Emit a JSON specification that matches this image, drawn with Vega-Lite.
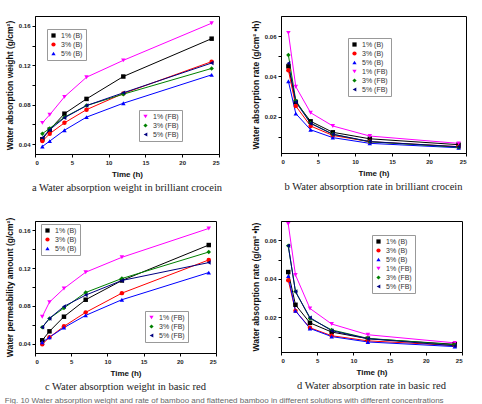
{
  "$schema": "https://vega.github.io/schema/vega-lite/v6.json",
  "background": "white",
  "padding": {"left": 4, "top": 15, "right": 5, "bottom": 0},
  "title": {"text": "Fig. 10  Water absorption weight and rate of bamboo and flattened bamboo in different solutions with different concentrations", "orient": "bottom", "anchor": "start", "font": "Liberation Sans", "fontSize": 8, "fontWeight": "normal", "color": "#666666", "offset": 4},
  "datasets": {
    "wbc": [
      {"t": 1, "s": "1% (B)", "g": "B", "v": 0.045}, {"t": 2, "s": "1% (B)", "g": "B", "v": 0.0547}, {"t": 4, "s": "1% (B)", "g": "B", "v": 0.0709}, {"t": 7, "s": "1% (B)", "g": "B", "v": 0.0859}, {"t": 12, "s": "1% (B)", "g": "B", "v": 0.1086}, {"t": 24, "s": "1% (B)", "g": "B", "v": 0.147},
      {"t": 1, "s": "3% (B)", "g": "B", "v": 0.0431}, {"t": 2, "s": "3% (B)", "g": "B", "v": 0.0506}, {"t": 4, "s": "3% (B)", "g": "B", "v": 0.0616}, {"t": 7, "s": "3% (B)", "g": "B", "v": 0.075}, {"t": 12, "s": "3% (B)", "g": "B", "v": 0.0914}, {"t": 24, "s": "3% (B)", "g": "B", "v": 0.1237},
      {"t": 1, "s": "5% (B)", "g": "B", "v": 0.0376}, {"t": 2, "s": "5% (B)", "g": "B", "v": 0.0431}, {"t": 4, "s": "5% (B)", "g": "B", "v": 0.0541}, {"t": 7, "s": "5% (B)", "g": "B", "v": 0.0674}, {"t": 12, "s": "5% (B)", "g": "B", "v": 0.0815}, {"t": 24, "s": "5% (B)", "g": "B", "v": 0.1103},
      {"t": 1, "s": "1% (FB)", "g": "FB", "v": 0.0616}, {"t": 2, "s": "1% (FB)", "g": "FB", "v": 0.0698}, {"t": 4, "s": "1% (FB)", "g": "FB", "v": 0.088}, {"t": 7, "s": "1% (FB)", "g": "FB", "v": 0.1079}, {"t": 12, "s": "1% (FB)", "g": "FB", "v": 0.125}, {"t": 24, "s": "1% (FB)", "g": "FB", "v": 0.1627},
      {"t": 1, "s": "3% (FB)", "g": "FB", "v": 0.0506}, {"t": 2, "s": "3% (FB)", "g": "FB", "v": 0.056}, {"t": 4, "s": "3% (FB)", "g": "FB", "v": 0.0674}, {"t": 7, "s": "3% (FB)", "g": "FB", "v": 0.0791}, {"t": 12, "s": "3% (FB)", "g": "FB", "v": 0.0907}, {"t": 24, "s": "3% (FB)", "g": "FB", "v": 0.1168},
      {"t": 1, "s": "5% (FB)", "g": "FB", "v": 0.0465}, {"t": 2, "s": "5% (FB)", "g": "FB", "v": 0.0547}, {"t": 4, "s": "5% (FB)", "g": "FB", "v": 0.0667}, {"t": 7, "s": "5% (FB)", "g": "FB", "v": 0.0791}, {"t": 12, "s": "5% (FB)", "g": "FB", "v": 0.0921}, {"t": 24, "s": "5% (FB)", "g": "FB", "v": 0.1223}
    ],
    "rbc": [
      {"t": 1, "s": "1% (B)", "v": 0.045}, {"t": 2, "s": "1% (B)", "v": 0.02735}, {"t": 4, "s": "1% (B)", "v": 0.01773}, {"t": 7, "s": "1% (B)", "v": 0.01227}, {"t": 12, "s": "1% (B)", "v": 0.00905}, {"t": 24, "s": "1% (B)", "v": 0.00613},
      {"t": 1, "s": "3% (B)", "v": 0.0431}, {"t": 2, "s": "3% (B)", "v": 0.0253}, {"t": 4, "s": "3% (B)", "v": 0.0154}, {"t": 7, "s": "3% (B)", "v": 0.01071}, {"t": 12, "s": "3% (B)", "v": 0.00762}, {"t": 24, "s": "3% (B)", "v": 0.00515},
      {"t": 1, "s": "5% (B)", "v": 0.0376}, {"t": 2, "s": "5% (B)", "v": 0.02155}, {"t": 4, "s": "5% (B)", "v": 0.01353}, {"t": 7, "s": "5% (B)", "v": 0.00963}, {"t": 12, "s": "5% (B)", "v": 0.00679}, {"t": 24, "s": "5% (B)", "v": 0.0046},
      {"t": 1, "s": "1% (FB)", "v": 0.0616}, {"t": 2, "s": "1% (FB)", "v": 0.0349}, {"t": 4, "s": "1% (FB)", "v": 0.022}, {"t": 7, "s": "1% (FB)", "v": 0.01541}, {"t": 12, "s": "1% (FB)", "v": 0.01042}, {"t": 24, "s": "1% (FB)", "v": 0.00678},
      {"t": 1, "s": "3% (FB)", "v": 0.0506}, {"t": 2, "s": "3% (FB)", "v": 0.028}, {"t": 4, "s": "3% (FB)", "v": 0.01685}, {"t": 7, "s": "3% (FB)", "v": 0.0113}, {"t": 12, "s": "3% (FB)", "v": 0.00756}, {"t": 24, "s": "3% (FB)", "v": 0.00487},
      {"t": 1, "s": "5% (FB)", "v": 0.0465}, {"t": 2, "s": "5% (FB)", "v": 0.02735}, {"t": 4, "s": "5% (FB)", "v": 0.01668}, {"t": 7, "s": "5% (FB)", "v": 0.0113}, {"t": 12, "s": "5% (FB)", "v": 0.00768}, {"t": 24, "s": "5% (FB)", "v": 0.0051}
    ],
    "wbr": [
      {"t": 1, "s": "1% (B)", "g": "B", "v": 0.0435}, {"t": 2, "s": "1% (B)", "g": "B", "v": 0.053}, {"t": 4, "s": "1% (B)", "g": "B", "v": 0.0685}, {"t": 7, "s": "1% (B)", "g": "B", "v": 0.0865}, {"t": 12, "s": "1% (B)", "g": "B", "v": 0.1069}, {"t": 24, "s": "1% (B)", "g": "B", "v": 0.1445},
      {"t": 1, "s": "3% (B)", "g": "B", "v": 0.0393}, {"t": 2, "s": "3% (B)", "g": "B", "v": 0.0467}, {"t": 4, "s": "3% (B)", "g": "B", "v": 0.0583}, {"t": 7, "s": "3% (B)", "g": "B", "v": 0.0731}, {"t": 12, "s": "3% (B)", "g": "B", "v": 0.0935}, {"t": 24, "s": "3% (B)", "g": "B", "v": 0.1287},
      {"t": 1, "s": "5% (B)", "g": "B", "v": 0.0414}, {"t": 2, "s": "5% (B)", "g": "B", "v": 0.0467}, {"t": 4, "s": "5% (B)", "g": "B", "v": 0.0569}, {"t": 7, "s": "5% (B)", "g": "B", "v": 0.0699}, {"t": 12, "s": "5% (B)", "g": "B", "v": 0.0865}, {"t": 24, "s": "5% (B)", "g": "B", "v": 0.1153},
      {"t": 1, "s": "1% (FB)", "g": "FB", "v": 0.0685}, {"t": 2, "s": "1% (FB)", "g": "FB", "v": 0.084}, {"t": 4, "s": "1% (FB)", "g": "FB", "v": 0.0984}, {"t": 7, "s": "1% (FB)", "g": "FB", "v": 0.1157}, {"t": 12, "s": "1% (FB)", "g": "FB", "v": 0.1315}, {"t": 24, "s": "1% (FB)", "g": "FB", "v": 0.1621},
      {"t": 1, "s": "3% (FB)", "g": "FB", "v": 0.0572}, {"t": 2, "s": "3% (FB)", "g": "FB", "v": 0.0667}, {"t": 4, "s": "3% (FB)", "g": "FB", "v": 0.0777}, {"t": 7, "s": "3% (FB)", "g": "FB", "v": 0.0942}, {"t": 12, "s": "3% (FB)", "g": "FB", "v": 0.109}, {"t": 24, "s": "3% (FB)", "g": "FB", "v": 0.1371},
      {"t": 1, "s": "5% (FB)", "g": "FB", "v": 0.0572}, {"t": 2, "s": "5% (FB)", "g": "FB", "v": 0.0667}, {"t": 4, "s": "5% (FB)", "g": "FB", "v": 0.0794}, {"t": 7, "s": "5% (FB)", "g": "FB", "v": 0.0914}, {"t": 12, "s": "5% (FB)", "g": "FB", "v": 0.1069}, {"t": 24, "s": "5% (FB)", "g": "FB", "v": 0.1259}
    ],
    "rbr": [
      {"t": 1, "s": "1% (B)", "v": 0.0435}, {"t": 2, "s": "1% (B)", "v": 0.0265}, {"t": 4, "s": "1% (B)", "v": 0.01713}, {"t": 7, "s": "1% (B)", "v": 0.01236}, {"t": 12, "s": "1% (B)", "v": 0.00891}, {"t": 24, "s": "1% (B)", "v": 0.00602},
      {"t": 1, "s": "3% (B)", "v": 0.0393}, {"t": 2, "s": "3% (B)", "v": 0.02335}, {"t": 4, "s": "3% (B)", "v": 0.01458}, {"t": 7, "s": "3% (B)", "v": 0.01044}, {"t": 12, "s": "3% (B)", "v": 0.00779}, {"t": 24, "s": "3% (B)", "v": 0.00536},
      {"t": 1, "s": "5% (B)", "v": 0.0414}, {"t": 2, "s": "5% (B)", "v": 0.02335}, {"t": 4, "s": "5% (B)", "v": 0.01423}, {"t": 7, "s": "5% (B)", "v": 0.00999}, {"t": 12, "s": "5% (B)", "v": 0.00721}, {"t": 24, "s": "5% (B)", "v": 0.0048},
      {"t": 1, "s": "1% (FB)", "v": 0.0685}, {"t": 2, "s": "1% (FB)", "v": 0.042}, {"t": 4, "s": "1% (FB)", "v": 0.0246}, {"t": 7, "s": "1% (FB)", "v": 0.01653}, {"t": 12, "s": "1% (FB)", "v": 0.01096}, {"t": 24, "s": "1% (FB)", "v": 0.00675},
      {"t": 1, "s": "3% (FB)", "v": 0.0572}, {"t": 2, "s": "3% (FB)", "v": 0.03335}, {"t": 4, "s": "3% (FB)", "v": 0.01943}, {"t": 7, "s": "3% (FB)", "v": 0.01346}, {"t": 12, "s": "3% (FB)", "v": 0.00908}, {"t": 24, "s": "3% (FB)", "v": 0.00571},
      {"t": 1, "s": "5% (FB)", "v": 0.0572}, {"t": 2, "s": "5% (FB)", "v": 0.03335}, {"t": 4, "s": "5% (FB)", "v": 0.01985}, {"t": 7, "s": "5% (FB)", "v": 0.01306}, {"t": 12, "s": "5% (FB)", "v": 0.00891}, {"t": 24, "s": "5% (FB)", "v": 0.00525}
    ]
  },
  "columns": 2,
  "spacing": {"column": 25, "row": 22},
  "resolve": {"scale": {"color": "independent", "shape": "independent"}, "legend": {"color": "independent", "shape": "independent"}},
  "concat": [
    {
      "width": 184, "height": 138,
      "title": {"text": "a  Water absorption weight in brilliant crocein"},
      "data": {"name": "wbc"},
      "encoding": {
        "x": {"field": "t", "type": "quantitative", "scale": {"domain": [0, 25]}, "axis": {"values": [0, 5, 10, 15, 20, 25], "title": "Time (h)"}},
        "y": {"field": "v", "type": "quantitative", "scale": {"domain": [0.03, 0.17]}, "axis": {"values": [0.04, 0.06, 0.08, 0.1, 0.12, 0.14, 0.16], "labelExpr": "round(datum.value*100) % 4 == 0 ? format(datum.value, '.2f') : ''", "title": "Water absorption weight (g/cm²)"}}
      },
      "layer": [
        {
          "transform": [{"filter": "datum.g == 'B'"}],
          "layer": [
            {"mark": {"type": "line", "strokeWidth": 1}, "encoding": {"color": {"field": "s", "type": "nominal", "scale": {"domain": ["1% (B)", "3% (B)", "5% (B)"], "range": ["#000000", "#ff0000", "#0000ff"]}}}},
            {"mark": {"type": "point", "filled": true, "size": 20, "opacity": 1}, "encoding": {
              "color": {"field": "s", "type": "nominal", "scale": {"domain": ["1% (B)", "3% (B)", "5% (B)"], "range": ["#000000", "#ff0000", "#0000ff"]}, "legend": {"orient": "none", "legendX": 12, "legendY": 13}},
              "shape": {"field": "s", "type": "nominal", "scale": {"domain": ["1% (B)", "3% (B)", "5% (B)"], "range": ["square", "circle", "triangle-up"]}, "legend": {"orient": "none", "legendX": 12, "legendY": 13}}
            }}
          ]
        },
        {
          "transform": [{"filter": "datum.g == 'FB'"}],
          "layer": [
            {"mark": {"type": "line", "strokeWidth": 1}, "encoding": {"color": {"field": "s", "type": "nominal", "scale": {"domain": ["1% (FB)", "3% (FB)", "5% (FB)"], "range": ["#ff00ff", "#008000", "#000080"]}}}},
            {"mark": {"type": "point", "filled": true, "size": 20, "opacity": 1}, "encoding": {
              "color": {"field": "s", "type": "nominal", "scale": {"domain": ["1% (FB)", "3% (FB)", "5% (FB)"], "range": ["#ff00ff", "#008000", "#000080"]}, "legend": {"orient": "none", "legendX": 104, "legendY": 94}},
              "shape": {"field": "s", "type": "nominal", "scale": {"domain": ["1% (FB)", "3% (FB)", "5% (FB)"], "range": ["triangle-down", "diamond", "triangle-left"]}, "legend": {"orient": "none", "legendX": 104, "legendY": 94}}
            }}
          ]
        }
      ],
      "resolve": {"scale": {"color": "independent", "shape": "independent"}, "legend": {"color": "independent", "shape": "independent"}}
    },
    {
      "width": 185, "height": 137,
      "title": {"text": "b  Water absorption rate in brilliant crocein"},
      "data": {"name": "rbc"},
      "encoding": {
        "x": {"field": "t", "type": "quantitative", "scale": {"domain": [0, 25]}, "axis": {"values": [0, 5, 10, 15, 20, 25], "title": "Time (h)"}},
        "y": {"field": "v", "type": "quantitative", "scale": {"domain": [0.002, 0.07]}, "axis": {"values": [0.01, 0.02, 0.03, 0.04, 0.05, 0.06], "labelExpr": "round(datum.value*100) % 2 == 0 ? format(datum.value, '.2f') : ''", "title": "Water absorption rate (g/cm² •h)"}},
        "color": {"field": "s", "type": "nominal", "scale": {"domain": ["1% (B)", "3% (B)", "5% (B)", "1% (FB)", "3% (FB)", "5% (FB)"], "range": ["#000000", "#ff0000", "#0000ff", "#ff00ff", "#008000", "#000080"]}, "legend": {"orient": "none", "legendX": 67, "legendY": 22}}
      },
      "layer": [
        {"mark": {"type": "line", "strokeWidth": 1}},
        {"mark": {"type": "point", "filled": true, "size": 20, "opacity": 1}, "encoding": {
          "shape": {"field": "s", "type": "nominal", "scale": {"domain": ["1% (B)", "3% (B)", "5% (B)", "1% (FB)", "3% (FB)", "5% (FB)"], "range": ["square", "circle", "triangle-up", "triangle-down", "diamond", "triangle-left"]}, "legend": {"orient": "none", "legendX": 67, "legendY": 22}}
        }}
      ]
    },
    {
      "width": 181, "height": 132,
      "title": {"text": "c  Water absorption weight in basic red"},
      "data": {"name": "wbr"},
      "encoding": {
        "x": {"field": "t", "type": "quantitative", "scale": {"domain": [0, 25]}, "axis": {"values": [0, 5, 10, 15, 20, 25], "title": "Time (h)"}},
        "y": {"field": "v", "type": "quantitative", "scale": {"domain": [0.03, 0.17]}, "axis": {"values": [0.04, 0.06, 0.08, 0.1, 0.12, 0.14, 0.16], "labelExpr": "round(datum.value*100) % 4 == 0 ? format(datum.value, '.2f') : ''", "title": "Water permeability amount (g/cm²)"}}
      },
      "layer": [
        {
          "transform": [{"filter": "datum.g == 'B'"}],
          "layer": [
            {"mark": {"type": "line", "strokeWidth": 1}, "encoding": {"color": {"field": "s", "type": "nominal", "scale": {"domain": ["1% (B)", "3% (B)", "5% (B)"], "range": ["#000000", "#ff0000", "#0000ff"]}}}},
            {"mark": {"type": "point", "filled": true, "size": 20, "opacity": 1}, "encoding": {
              "color": {"field": "s", "type": "nominal", "scale": {"domain": ["1% (B)", "3% (B)", "5% (B)"], "range": ["#000000", "#ff0000", "#0000ff"]}, "legend": {"orient": "none", "legendX": 6, "legendY": 3}},
              "shape": {"field": "s", "type": "nominal", "scale": {"domain": ["1% (B)", "3% (B)", "5% (B)"], "range": ["square", "circle", "triangle-up"]}, "legend": {"orient": "none", "legendX": 6, "legendY": 3}}
            }}
          ]
        },
        {
          "transform": [{"filter": "datum.g == 'FB'"}],
          "layer": [
            {"mark": {"type": "line", "strokeWidth": 1}, "encoding": {"color": {"field": "s", "type": "nominal", "scale": {"domain": ["1% (FB)", "3% (FB)", "5% (FB)"], "range": ["#ff00ff", "#008000", "#000080"]}}}},
            {"mark": {"type": "point", "filled": true, "size": 20, "opacity": 1}, "encoding": {
              "color": {"field": "s", "type": "nominal", "scale": {"domain": ["1% (FB)", "3% (FB)", "5% (FB)"], "range": ["#ff00ff", "#008000", "#000080"]}, "legend": {"orient": "none", "legendX": 110, "legendY": 90}},
              "shape": {"field": "s", "type": "nominal", "scale": {"domain": ["1% (FB)", "3% (FB)", "5% (FB)"], "range": ["triangle-down", "diamond", "triangle-left"]}, "legend": {"orient": "none", "legendX": 110, "legendY": 90}}
            }}
          ]
        }
      ],
      "resolve": {"scale": {"color": "independent", "shape": "independent"}, "legend": {"color": "independent", "shape": "independent"}}
    },
    {
      "width": 181, "height": 131,
      "title": {"text": "d  Water absorption rate in basic red"},
      "data": {"name": "rbr"},
      "encoding": {
        "x": {"field": "t", "type": "quantitative", "scale": {"domain": [0, 25]}, "axis": {"values": [0, 5, 10, 15, 20, 25], "title": "Time (h)"}},
        "y": {"field": "v", "type": "quantitative", "scale": {"domain": [0.002, 0.07]}, "axis": {"values": [0.01, 0.02, 0.03, 0.04, 0.05, 0.06], "labelExpr": "round(datum.value*100) % 2 == 0 ? format(datum.value, '.2f') : ''", "title": "Water absorption rate (g/cm² •h)"}},
        "color": {"field": "s", "type": "nominal", "scale": {"domain": ["1% (B)", "3% (B)", "5% (B)", "1% (FB)", "3% (FB)", "5% (FB)"], "range": ["#000000", "#ff0000", "#0000ff", "#ff00ff", "#008000", "#000080"]}, "legend": {"orient": "none", "legendX": 91, "legendY": 14}}
      },
      "layer": [
        {"mark": {"type": "line", "strokeWidth": 1}},
        {"mark": {"type": "point", "filled": true, "size": 20, "opacity": 1}, "encoding": {
          "shape": {"field": "s", "type": "nominal", "scale": {"domain": ["1% (B)", "3% (B)", "5% (B)", "1% (FB)", "3% (FB)", "5% (FB)"], "range": ["square", "circle", "triangle-up", "triangle-down", "diamond", "triangle-left"]}, "legend": {"orient": "none", "legendX": 91, "legendY": 14}}
        }}
      ]
    }
  ],
  "config": {
    "view": {"stroke": "#000000", "strokeWidth": 1},
    "axis": {"grid": false, "domainColor": "#000000", "tickColor": "#000000", "tickSize": 3, "labelFont": "Liberation Sans", "labelFontSize": 6, "labelFontWeight": "bold", "labelColor": "#222222", "labelPadding": 2, "titleFont": "Liberation Sans", "titleFontSize": 8, "titleFontWeight": "bold", "titleColor": "#111111", "titlePadding": 4},
    "axisY": {"titleFontSize": 8.5},
    "axisX": {"titlePadding": 5},
    "legend": {"title": null, "labelFont": "Liberation Sans", "labelFontSize": 7, "labelColor": "#333333", "strokeColor": "#999999", "padding": 3, "rowPadding": 1, "symbolSize": 18, "symbolStrokeWidth": 0, "labelOffset": 4},
    "title": {"orient": "bottom", "anchor": "middle", "font": "Liberation Serif", "fontSize": 10.5, "fontWeight": "normal", "color": "#222222", "offset": 5}
  }
}
